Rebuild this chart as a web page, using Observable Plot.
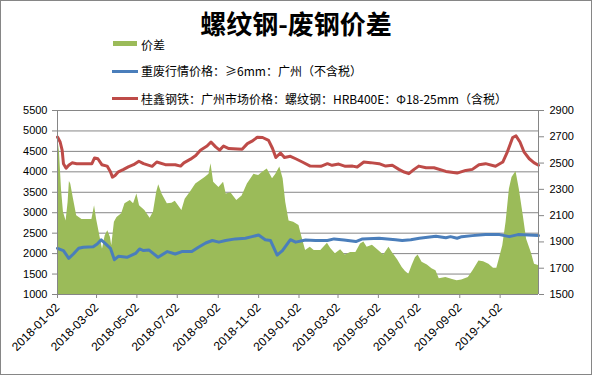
<!DOCTYPE html>
<html>
<head>
<meta charset="utf-8">
<script src="https://cdn.jsdelivr.net/npm/d3@7"></script>
<script src="https://cdn.jsdelivr.net/npm/@observablehq/plot@0.6"></script>
<style>
  html, body { margin: 0; padding: 0; background: #fff; }
  #wrap { position: relative; width: 592px; height: 375px; overflow: hidden; background: #fff; }
  #frame { position: absolute; left: 0; top: 0; width: 592px; height: 375px; box-sizing: border-box; border: 1px solid #868686; pointer-events: none; }
  #title { position: absolute; left: 0; width: 592px; top: 8px; line-height: 30px; text-align: center;
           font-family: "Noto Sans CJK SC", sans-serif; font-weight: bold; font-size: 26px; color: #000; }
  .lg { position: absolute; left: 141px; font-family: "Noto Sans CJK SC", sans-serif; font-size: 12px; line-height: 16px; color: #000; white-space: nowrap; }
  .sw { position: absolute; }
  #chart { position: absolute; left: 0; top: 100px; }
</style>
</head>
<body>
<div id="wrap">
  <div id="title">螺纹钢-废钢价差</div>
  <div class="sw" style="left:113px; top:41px; width:24px; height:5px; background:#9BBB59;"></div>
  <div class="lg" style="top:37px;">价差</div>
  <div class="sw" style="left:112px; top:69.5px; width:26px; height:3px; background:#4A7EBB;"></div>
  <div class="lg" style="top:63px;">重废行情价格：≥6mm：广州（不含税）</div>
  <div class="sw" style="left:112px; top:97px; width:26px; height:3px; background:#BE4B48;"></div>
  <div class="lg" style="top:90.5px;">桂鑫钢铁：广州市场价格：螺纹钢：HRB400E：Φ18-25mm（含税）</div>
  <div id="chart"></div>
  <div id="frame"></div>
</div>
<script>
// 螺纹钢价格（左轴）
const rebar = [
["2018-01-02",4850],["2018-01-06",4730],["2018-01-09",4530],["2018-01-11",4200],["2018-01-15",4090],["2018-01-19",4160],["2018-01-24",4220],["2018-01-31",4200],["2018-02-23",4200],["2018-02-27",4340],["2018-03-04",4320],["2018-03-10",4175],["2018-03-18",4140],["2018-03-23",4000],["2018-03-26",3870],["2018-03-30",3910],["2018-04-04",4000],["2018-04-12",4060],["2018-04-19",4120],["2018-04-27",4175],["2018-05-05",4260],["2018-05-12",4200],["2018-05-25",4135],["2018-06-01",4240],["2018-06-14",4175],["2018-06-29",4175],["2018-07-07",4140],["2018-07-12",4220],["2018-07-22",4310],["2018-07-30",4400],["2018-08-06",4530],["2018-08-16",4630],["2018-08-22",4730],["2018-08-29",4610],["2018-09-04",4530],["2018-09-10",4630],["2018-09-18",4570],["2018-10-08",4550],["2018-10-16",4690],["2018-10-23",4750],["2018-10-31",4845],["2018-11-08",4840],["2018-11-17",4770],["2018-11-23",4570],["2018-11-28",4350],["2018-12-05",4460],["2018-12-11",4350],["2018-12-20",4380],["2018-12-28",4320],["2019-01-07",4240],["2019-01-19",4140],["2019-02-04",4135],["2019-02-14",4200],["2019-02-21",4160],["2019-03-03",4190],["2019-03-13",4135],["2019-03-24",4140],["2019-03-31",4117],["2019-04-10",4240],["2019-04-20",4225],["2019-05-03",4200],["2019-05-13",4140],["2019-05-23",4160],["2019-06-02",4060],["2019-06-10",3995],["2019-06-17",3955],["2019-06-25",4060],["2019-07-02",4140],["2019-07-13",4100],["2019-07-25",4100],["2019-08-12",4010],["2019-08-29",3970],["2019-09-11",4035],["2019-09-21",4060],["2019-10-01",4175],["2019-10-11",4200],["2019-10-26",4135],["2019-11-06",4240],["2019-11-13",4490],["2019-11-21",4840],["2019-11-26",4880],["2019-12-02",4730],["2019-12-08",4490],["2019-12-16",4320],["2019-12-23",4225],["2019-12-30",4160]
];
// 重废价格（左轴）
const scrap = [
["2018-01-02",2130],["2018-01-11",2075],["2018-01-19",1885],["2018-01-26",1990],["2018-02-03",2130],["2018-02-10",2155],["2018-02-25",2170],["2018-03-03",2235],["2018-03-09",2335],["2018-03-15",2250],["2018-03-23",2130],["2018-03-29",1850],["2018-04-04",1935],["2018-04-17",1910],["2018-04-30",2005],["2018-05-06",2115],["2018-05-12",2075],["2018-05-20",2090],["2018-06-03",1910],["2018-06-17",2050],["2018-06-29",1990],["2018-07-09",2050],["2018-07-24",2050],["2018-08-03",2155],["2018-08-14",2260],["2018-08-24",2320],["2018-09-03",2280],["2018-09-13",2320],["2018-09-28",2360],["2018-10-13",2375],["2018-10-23",2415],["2018-11-02",2455],["2018-11-12",2340],["2018-11-20",2320],["2018-11-30",1965],["2018-12-08",2075],["2018-12-20",2340],["2018-12-28",2280],["2019-01-12",2335],["2019-01-27",2320],["2019-02-14",2320],["2019-02-24",2360],["2019-03-11",2335],["2019-03-29",2295],["2019-04-08",2360],["2019-05-03",2375],["2019-05-28",2340],["2019-06-07",2320],["2019-06-20",2340],["2019-07-03",2375],["2019-07-28",2425],["2019-08-12",2390],["2019-08-19",2415],["2019-08-29",2375],["2019-09-05",2415],["2019-09-21",2440],["2019-10-11",2465],["2019-11-01",2465],["2019-11-16",2415],["2019-11-29",2465],["2019-12-30",2440]
];
// 价差（右轴）
const spread = [
["2018-01-02",2710],["2018-01-05",2580],["2018-01-08",2300],["2018-01-11",2125],["2018-01-15",2060],["2018-01-18",2200],["2018-01-20",2360],["2018-01-22",2340],["2018-01-26",2230],["2018-01-31",2100],["2018-02-08",2070],["2018-02-23",2070],["2018-02-27",2175],["2018-03-02",2075],["2018-03-08",1920],["2018-03-11",1845],["2018-03-15",1945],["2018-03-19",1985],["2018-03-23",1935],["2018-03-25",1870],["2018-03-29",2050],["2018-04-02",2085],["2018-04-09",2115],["2018-04-14",2190],["2018-04-22",2215],["2018-04-27",2190],["2018-05-02",2265],["2018-05-06",2175],["2018-05-14",2140],["2018-05-22",2080],["2018-05-27",2125],["2018-06-01",2280],["2018-06-04",2335],["2018-06-09",2265],["2018-06-17",2190],["2018-06-24",2195],["2018-06-29",2210],["2018-07-09",2140],["2018-07-14",2225],["2018-07-22",2280],["2018-07-30",2340],["2018-08-06",2365],["2018-08-13",2390],["2018-08-19",2415],["2018-08-22",2495],["2018-08-26",2355],["2018-09-03",2315],["2018-09-10",2355],["2018-09-14",2265],["2018-09-21",2275],["2018-09-30",2215],["2018-10-08",2250],["2018-10-16",2340],["2018-10-26",2415],["2018-11-02",2405],["2018-11-08",2430],["2018-11-15",2455],["2018-11-23",2380],["2018-11-28",2415],["2018-12-04",2470],["2018-12-09",2380],["2018-12-13",2200],["2018-12-18",2060],["2018-12-25",2050],["2019-01-02",2025],["2019-01-06",1945],["2019-01-12",1835],["2019-01-19",1860],["2019-01-25",1835],["2019-02-04",1835],["2019-02-14",1890],["2019-02-19",1850],["2019-02-26",1810],["2019-03-06",1840],["2019-03-13",1800],["2019-03-21",1820],["2019-03-29",1820],["2019-04-05",1885],["2019-04-10",1900],["2019-04-15",1860],["2019-04-23",1875],["2019-04-30",1845],["2019-05-10",1800],["2019-05-18",1860],["2019-05-23",1820],["2019-05-31",1765],["2019-06-07",1705],["2019-06-12",1675],["2019-06-17",1655],["2019-06-22",1720],["2019-06-27",1780],["2019-07-01",1800],["2019-07-07",1745],["2019-07-15",1725],["2019-07-22",1695],["2019-07-28",1680],["2019-08-02",1620],["2019-08-12",1630],["2019-08-22",1615],["2019-08-29",1605],["2019-09-05",1610],["2019-09-15",1630],["2019-09-22",1680],["2019-10-01",1755],["2019-10-08",1750],["2019-10-16",1730],["2019-10-23",1700],["2019-10-28",1700],["2019-10-31",1755],["2019-11-06",1870],["2019-11-11",2050],["2019-11-16",2300],["2019-11-20",2390],["2019-11-26",2435],["2019-12-01",2300],["2019-12-07",2100],["2019-12-12",1920],["2019-12-19",1820],["2019-12-24",1730],["2019-12-30",1720]
];
const leftTicks = [1000,1500,2000,2500,3000,3500,4000,4500,5000,5500];
const rightTicks = [1500,1700,1900,2100,2300,2500,2700,2900];
const xTickLabels = ["2018-01-02","2018-03-02","2018-05-02","2018-07-02","2018-09-02","2018-11-02","2019-01-02","2019-03-02","2019-05-02","2019-07-02","2019-09-02","2019-11-02"];
const xDomain = ["2018-01-02","2019-12-30"];

// right axis [1500,2900] mapped onto left axis [1000,5500]
const L0 = 1000, L1 = 5500, R0 = 1500, R1 = 2900;
const toLeft = v => L0 + (v - R0) * (L1 - L0) / (R1 - R0);
const fromLeft = v => R0 + (v - L0) * (R1 - R0) / (L1 - L0);

const parse = s => new Date(s + "T00:00:00Z");
const toRows = arr => arr.map(([d, v]) => ({date: parse(d), value: v}));
const rebarRows = toRows(rebar), scrapRows = toRows(scrap), spreadRows = toRows(spread);
const fmt = d3.utcFormat("%Y-%m-%d");
const grid = "#868686";

const chart = Plot.plot({
  width: 592, height: 275,
  marginTop: 10, marginLeft: 57, marginRight: 54, marginBottom: 81,
  style: {fontFamily: "'Liberation Sans', Arial, sans-serif", fontSize: "11px", color: "#000", background: "transparent"},
  x: {type: "utc", domain: xDomain.map(parse), label: null},
  y: {domain: [L0, L1], label: null},
  marks: [
    Plot.ruleY(leftTicks.slice(1), {stroke: grid, strokeWidth: 1}),
    Plot.areaY(spreadRows, {x: "date", y1: () => L0, y2: d => toLeft(d.value), fill: "#9BBB59"}),
    Plot.lineY(scrapRows, {x: "date", y: "value", stroke: "#4A7EBB", strokeWidth: 3}),
    Plot.lineY(rebarRows, {x: "date", y: "value", stroke: "#BE4B48", strokeWidth: 3}),
    Plot.ruleX([parse(xDomain[0]), parse(xDomain[1])], {stroke: grid}),
    Plot.ruleY([L0], {stroke: grid}),
    Plot.axisY(leftTicks, {anchor: "left", label: null, tickSize: 5, tickPadding: 5, stroke: grid, fill: "#000", tickFormat: d => String(d)}),
    Plot.axisY(rightTicks.map(toLeft), {anchor: "right", label: null, tickSize: 5, tickPadding: 6, stroke: grid, fill: "#000", tickFormat: d => String(Math.round(fromLeft(d)))}),
    Plot.axisX(xTickLabels.map(parse), {anchor: "bottom", label: null, tickSize: 4, tickPadding: 7, tickRotate: -45, fontSize: 12, stroke: grid, fill: "#000", tickFormat: fmt})
  ]
});
document.getElementById("chart").appendChild(chart);
</script>
</body>
</html>
